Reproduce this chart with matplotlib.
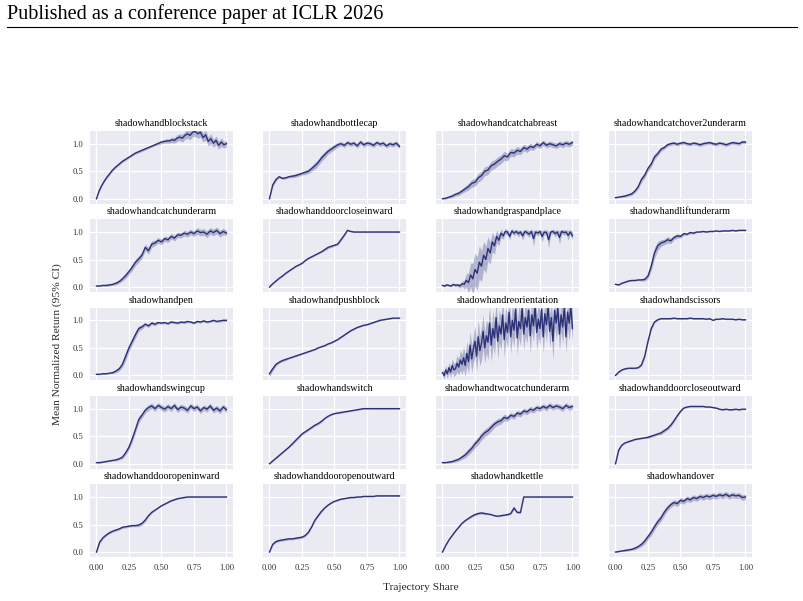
import numpy as np
import matplotlib
matplotlib.use("Agg")
import matplotlib.pyplot as plt
from matplotlib.lines import Line2D


plt.rcParams.update({
    "font.family": ["Liberation Serif", "DejaVu Serif"],
    "font.size": 7,
    "axes.titlesize": 7.2,
    "xtick.labelsize": 6.2,
    "ytick.labelsize": 6.2,
    "axes.facecolor": "#EAEAF2",
    "axes.edgecolor": "white",
    "axes.grid": True,
    "grid.color": "white",
    "grid.linewidth": 0.9,
    "xtick.color": "#333333",
    "ytick.color": "#333333",
    "xtick.major.size": 0,
    "ytick.major.size": 0,
})


TASKS = [
    "shadowhandblockstack", "shadowhandbottlecap", "shadowhandcatchabreast", "shadowhandcatchover2underarm",
    "shadowhandcatchunderarm", "shadowhanddoorcloseinward", "shadowhandgraspandplace", "shadowhandliftunderarm",
    "shadowhandpen", "shadowhandpushblock", "shadowhandreorientation", "shadowhandscissors",
    "shadowhandswingcup", "shadowhandswitch", "shadowhandtwocatchunderarm", "shadowhanddoorcloseoutward",
    "shadowhanddooropeninward", "shadowhanddooropenoutward", "shadowhandkettle", "shadowhandover",
]

X_TICKS = [0.0, 0.25, 0.5, 0.75, 1.0]
X_TICK_LABELS = ["0.00", "0.25", "0.50", "0.75", "1.00"]
Y_TICKS = [0.0, 0.5, 1.0]
Y_TICK_LABELS = ["0.0", "0.5", "1.0"]

# mean normalized return, sampled evenly over trajectory share 0..1
blockstack_mean = [
    0.00, 0.14, 0.24, 0.32, 0.39, 0.45, 0.51, 0.56, 0.60, 0.64,
    0.68, 0.71, 0.74, 0.77, 0.80, 0.83, 0.85, 0.87, 0.89, 0.91,
    0.93, 0.95, 0.97, 0.99, 1.01, 1.03, 1.04, 1.05, 1.05, 1.07,
    1.06, 1.10, 1.12, 1.10, 1.15, 1.18, 1.15, 1.21, 1.22, 1.18,
    1.21, 1.11, 1.16, 1.04, 1.09, 1.01, 1.06, 0.97, 1.03, 0.98,
    1.00]
blockstack_ci = [
    0.01, 0.02, 0.02, 0.02, 0.02, 0.02, 0.02, 0.02, 0.02, 0.02,
    0.02, 0.02, 0.02, 0.02, 0.02, 0.02, 0.02, 0.02, 0.02, 0.02,
    0.02, 0.02, 0.02, 0.02, 0.03, 0.03, 0.03, 0.04, 0.04, 0.05,
    0.05, 0.06, 0.06, 0.07, 0.07, 0.08, 0.08, 0.08, 0.09, 0.08,
    0.09, 0.08, 0.09, 0.08, 0.09, 0.07, 0.08, 0.07, 0.08, 0.06,
    0.06]

bottlecap_mean = [
    0.00, 0.25, 0.35, 0.40, 0.37, 0.38, 0.40, 0.41, 0.42, 0.44,
    0.46, 0.48, 0.50, 0.55, 0.60, 0.66, 0.74, 0.80, 0.86, 0.90,
    0.94, 0.98, 1.00, 0.97, 1.02, 0.99, 1.01, 0.96, 1.03, 0.98,
    1.01, 1.00, 0.97, 1.02, 0.99, 1.01, 0.96, 1.00, 0.98, 1.01,
    0.95]
bottlecap_ci = [
    0.01, 0.03, 0.03, 0.02, 0.02, 0.02, 0.02, 0.03, 0.03, 0.03,
    0.03, 0.04, 0.04, 0.05, 0.06, 0.06, 0.06, 0.06, 0.05, 0.05,
    0.05, 0.04, 0.04, 0.04, 0.04, 0.04, 0.04, 0.04, 0.04, 0.04,
    0.04, 0.04, 0.04, 0.04, 0.04, 0.04, 0.04, 0.04, 0.04, 0.04,
    0.04]

catchabreast_mean = [
    0.00, 0.01, 0.03, 0.05, 0.08, 0.10, 0.14, 0.18, 0.22, 0.28,
    0.30, 0.38, 0.42, 0.50, 0.52, 0.60, 0.63, 0.68, 0.72, 0.78,
    0.76, 0.84, 0.83, 0.88, 0.86, 0.93, 0.90, 0.95, 0.93, 0.99,
    0.96, 1.02, 0.97, 1.00, 0.98, 0.96, 1.00, 0.98, 1.01, 0.99,
    1.02]
catchabreast_ci = [
    0.01, 0.02, 0.02, 0.03, 0.03, 0.04, 0.04, 0.05, 0.06, 0.07,
    0.07, 0.08, 0.08, 0.08, 0.08, 0.08, 0.08, 0.08, 0.08, 0.08,
    0.07, 0.07, 0.07, 0.07, 0.06, 0.06, 0.06, 0.06, 0.05, 0.05,
    0.05, 0.05, 0.05, 0.05, 0.05, 0.05, 0.05, 0.05, 0.05, 0.05,
    0.05]

catchover2underarm_mean = [
    0.02, 0.03, 0.04, 0.05, 0.07, 0.09, 0.14, 0.22, 0.35, 0.43,
    0.55, 0.63, 0.76, 0.82, 0.90, 0.93, 0.98, 1.00, 1.01, 0.99,
    1.01, 1.02, 1.00, 0.99, 1.01, 1.00, 0.98, 1.00, 1.01, 1.02,
    1.00, 0.99, 1.01, 1.00, 0.98, 1.00, 1.02, 1.01, 1.00, 1.03,
    1.03]
catchover2underarm_ci = [
    0.01, 0.01, 0.02, 0.02, 0.02, 0.03, 0.03, 0.04, 0.05, 0.05,
    0.05, 0.05, 0.05, 0.04, 0.04, 0.03, 0.03, 0.03, 0.03, 0.03,
    0.03, 0.03, 0.03, 0.03, 0.03, 0.03, 0.03, 0.03, 0.03, 0.03,
    0.03, 0.03, 0.03, 0.03, 0.03, 0.03, 0.03, 0.03, 0.03, 0.03,
    0.03]

catchunderarm_mean = [
    0.02, 0.02, 0.03, 0.03, 0.04, 0.05, 0.07, 0.10, 0.15, 0.21,
    0.28, 0.36, 0.45, 0.51, 0.58, 0.72, 0.66, 0.78, 0.80, 0.85,
    0.82, 0.88, 0.86, 0.92, 0.89, 0.95, 0.94, 0.98, 0.96, 1.00,
    0.97, 1.02, 0.99, 1.00, 0.96, 1.02, 0.99, 1.03, 0.97, 1.01,
    0.98]
catchunderarm_ci = [
    0.01, 0.01, 0.01, 0.02, 0.02, 0.02, 0.03, 0.03, 0.04, 0.05,
    0.05, 0.06, 0.06, 0.06, 0.06, 0.06, 0.06, 0.06, 0.05, 0.05,
    0.05, 0.05, 0.05, 0.05, 0.05, 0.05, 0.05, 0.05, 0.05, 0.05,
    0.05, 0.06, 0.06, 0.06, 0.06, 0.06, 0.06, 0.06, 0.06, 0.06,
    0.05]

doorcloseinward_mean = [
    0.00, 0.06, 0.11, 0.16, 0.20, 0.25, 0.29, 0.33, 0.37, 0.40,
    0.43, 0.48, 0.52, 0.55, 0.58, 0.61, 0.64, 0.68, 0.72, 0.74,
    0.76, 0.78, 0.86, 0.94, 1.03, 1.01, 1.00, 1.00, 1.00, 1.00,
    1.00, 1.00, 1.00, 1.00, 1.00, 1.00, 1.00, 1.00, 1.00, 1.00,
    1.00]
doorcloseinward_ci = [
    0.01, 0.01, 0.01, 0.01, 0.01, 0.01, 0.01, 0.01, 0.01, 0.01,
    0.01, 0.01, 0.01, 0.01, 0.01, 0.01, 0.01, 0.02, 0.02, 0.02,
    0.02, 0.02, 0.02, 0.02, 0.01, 0.01, 0.01, 0.01, 0.01, 0.01,
    0.01, 0.01, 0.01, 0.01, 0.01, 0.01, 0.01, 0.01, 0.01, 0.01,
    0.01]

graspandplace_mean = [
    0.03, 0.02, 0.04, 0.03, 0.02, 0.05, 0.03, 0.04, 0.02, 0.06,
    0.05, 0.12, 0.08, 0.22, 0.15, 0.32, 0.25, 0.45, 0.38, 0.58,
    0.50, 0.70, 0.62, 0.82, 0.75, 0.92, 0.85, 0.98, 0.93, 1.01,
    1.00, 0.92, 1.02, 0.98, 1.01, 0.97, 1.00, 0.93, 1.01, 0.99,
    0.96, 1.01, 0.88, 1.00, 0.98, 1.01, 0.92, 1.00, 0.99, 0.86,
    1.00, 1.01, 0.97, 1.00, 0.90, 1.01, 0.99, 1.00, 0.94, 1.00,
    0.93]
graspandplace_ci = [
    0.02, 0.02, 0.02, 0.02, 0.02, 0.02, 0.03, 0.03, 0.04, 0.05,
    0.08, 0.12, 0.18, 0.22, 0.28, 0.30, 0.30, 0.30, 0.28, 0.25,
    0.25, 0.22, 0.20, 0.18, 0.15, 0.12, 0.10, 0.08, 0.06, 0.05,
    0.05, 0.06, 0.04, 0.05, 0.04, 0.06, 0.04, 0.08, 0.04, 0.05,
    0.06, 0.04, 0.14, 0.04, 0.05, 0.04, 0.10, 0.04, 0.05, 0.15,
    0.04, 0.04, 0.06, 0.04, 0.12, 0.04, 0.05, 0.04, 0.09, 0.04,
    0.08]

liftunderarm_mean = [
    0.05, 0.04, 0.07, 0.09, 0.11, 0.12, 0.12, 0.13, 0.13, 0.14,
    0.20, 0.38, 0.62, 0.75, 0.80, 0.82, 0.86, 0.84, 0.90, 0.93,
    0.92, 0.97, 0.96, 0.99, 0.98, 1.00, 1.00, 1.01, 1.00, 1.01,
    1.01, 1.02, 1.01, 1.02, 1.02, 1.02, 1.03, 1.02, 1.03, 1.03,
    1.03]
liftunderarm_ci = [
    0.01, 0.01, 0.01, 0.01, 0.01, 0.01, 0.01, 0.01, 0.02, 0.03,
    0.05, 0.08, 0.10, 0.08, 0.06, 0.05, 0.06, 0.05, 0.04, 0.04,
    0.03, 0.03, 0.02, 0.02, 0.02, 0.01, 0.01, 0.01, 0.01, 0.01,
    0.01, 0.01, 0.01, 0.01, 0.01, 0.01, 0.01, 0.01, 0.01, 0.01,
    0.01]

pen_mean = [
    0.02, 0.02, 0.03, 0.03, 0.04, 0.05, 0.08, 0.12, 0.20, 0.35,
    0.50, 0.62, 0.74, 0.85, 0.88, 0.93, 0.90, 0.95, 0.93, 0.96,
    0.95, 0.96, 0.94, 0.97, 0.96, 0.95, 0.97, 0.96, 0.98, 0.97,
    0.95, 0.98, 0.97, 0.99, 0.97, 0.98, 1.00, 0.98, 0.99, 1.00,
    1.00]
pen_ci = [
    0.01, 0.01, 0.01, 0.01, 0.01, 0.02, 0.03, 0.04, 0.05, 0.07,
    0.07, 0.06, 0.06, 0.05, 0.04, 0.03, 0.03, 0.03, 0.03, 0.02,
    0.02, 0.02, 0.02, 0.02, 0.02, 0.02, 0.02, 0.02, 0.02, 0.02,
    0.02, 0.02, 0.02, 0.02, 0.02, 0.02, 0.02, 0.02, 0.02, 0.02,
    0.02]

pushblock_mean = [
    0.03, 0.12, 0.20, 0.24, 0.27, 0.29, 0.31, 0.33, 0.35, 0.37,
    0.39, 0.41, 0.43, 0.45, 0.47, 0.50, 0.52, 0.54, 0.57, 0.59,
    0.62, 0.65, 0.69, 0.73, 0.77, 0.81, 0.84, 0.87, 0.89, 0.91,
    0.92, 0.94, 0.96, 0.98, 1.00, 1.01, 1.02, 1.03, 1.04, 1.04,
    1.04]
pushblock_ci = [
    0.05, 0.04, 0.03, 0.02, 0.02, 0.02, 0.01, 0.01, 0.01, 0.01,
    0.01, 0.01, 0.01, 0.01, 0.01, 0.01, 0.01, 0.01, 0.01, 0.01,
    0.01, 0.01, 0.01, 0.01, 0.01, 0.01, 0.01, 0.01, 0.01, 0.01,
    0.01, 0.01, 0.01, 0.01, 0.01, 0.01, 0.01, 0.01, 0.01, 0.01,
    0.01]

reorientation_mean = [
    0.05, 0.00, 0.10, 0.03, 0.14, 0.06, 0.18, 0.10, 0.12, 0.22,
    0.15, 0.28, 0.20, 0.32, 0.18, 0.40, 0.25, 0.55, 0.30, 0.48,
    0.62, 0.35, 0.70, 0.45, 0.58, 0.80, 0.50, 0.72, 0.60, 0.95,
    0.55, 0.85, 0.68, 1.05, 0.62, 0.90, 0.75, 1.10, 0.65, 0.95,
    0.78, 1.15, 0.70, 1.00, 0.82, 1.20, 0.68, 0.98, 0.85, 1.22,
    0.75, 1.05, 0.88, 1.18, 0.72, 1.10, 0.90, 1.25, 0.78, 1.02,
    0.85, 1.20, 0.70, 1.12, 0.92, 1.25, 0.80, 1.05, 0.62, 1.18,
    0.95, 1.22, 0.75, 1.10, 0.88, 1.25, 0.70, 1.15, 0.95, 1.25,
    0.85]
reorientation_ci = [
    0.06, 0.06, 0.08, 0.08, 0.10, 0.10, 0.12, 0.12, 0.12, 0.15,
    0.15, 0.18, 0.18, 0.20, 0.20, 0.22, 0.22, 0.25, 0.25, 0.25,
    0.28, 0.28, 0.30, 0.28, 0.30, 0.30, 0.28, 0.30, 0.32, 0.30,
    0.30, 0.32, 0.30, 0.30, 0.32, 0.30, 0.30, 0.30, 0.32, 0.30,
    0.30, 0.32, 0.30, 0.30, 0.32, 0.30, 0.30, 0.30, 0.32, 0.30,
    0.30, 0.32, 0.30, 0.30, 0.32, 0.30, 0.30, 0.30, 0.32, 0.30,
    0.30, 0.32, 0.30, 0.30, 0.32, 0.30, 0.30, 0.30, 0.35, 0.30,
    0.30, 0.32, 0.30, 0.30, 0.32, 0.30, 0.30, 0.30, 0.32, 0.30,
    0.30]

scissors_mean = [
    0.00, 0.06, 0.10, 0.12, 0.13, 0.13, 0.13, 0.14, 0.19, 0.35,
    0.62, 0.85, 0.97, 1.01, 1.03, 1.03, 1.03, 1.03, 1.04, 1.03,
    1.03, 1.03, 1.03, 1.04, 1.03, 1.03, 1.03, 1.03, 1.02, 1.03,
    1.00, 1.02, 1.02, 1.03, 1.02, 1.02, 1.02, 1.01, 1.02, 1.01,
    1.01]
scissors_ci = [
    0.01, 0.01, 0.01, 0.01, 0.01, 0.01, 0.01, 0.01, 0.02, 0.03,
    0.04, 0.03, 0.02, 0.01, 0.01, 0.01, 0.01, 0.01, 0.01, 0.01,
    0.01, 0.01, 0.01, 0.01, 0.01, 0.01, 0.01, 0.01, 0.01, 0.01,
    0.01, 0.01, 0.01, 0.01, 0.01, 0.01, 0.01, 0.01, 0.01, 0.01,
    0.01]

swingcup_mean = [
    0.02, 0.02, 0.03, 0.04, 0.05, 0.06, 0.07, 0.09, 0.12, 0.20,
    0.30, 0.45, 0.62, 0.80, 0.88, 0.97, 1.02, 1.05, 1.00, 1.06,
    1.02, 0.99, 1.04, 1.00, 1.06, 0.98, 1.03, 1.01, 0.97, 1.05,
    1.00, 1.03, 0.96, 1.02, 0.99, 1.05, 0.97, 1.01, 0.96, 1.03,
    0.98]
swingcup_ci = [
    0.01, 0.01, 0.01, 0.01, 0.01, 0.01, 0.02, 0.02, 0.03, 0.04,
    0.05, 0.06, 0.06, 0.06, 0.05, 0.05, 0.05, 0.05, 0.05, 0.05,
    0.05, 0.05, 0.05, 0.05, 0.05, 0.05, 0.05, 0.05, 0.05, 0.05,
    0.05, 0.05, 0.05, 0.05, 0.05, 0.05, 0.05, 0.05, 0.05, 0.05,
    0.05]

switch_mean = [
    0.00, 0.05, 0.10, 0.15, 0.20, 0.25, 0.30, 0.36, 0.42, 0.48,
    0.54, 0.58, 0.62, 0.66, 0.70, 0.73, 0.77, 0.82, 0.86, 0.89,
    0.91, 0.92, 0.93, 0.94, 0.95, 0.96, 0.97, 0.98, 0.99, 1.00,
    1.00, 1.00, 1.00, 1.00, 1.00, 1.00, 1.00, 1.00, 1.00, 1.00,
    1.00]
switch_ci = [
    0.01, 0.01, 0.01, 0.01, 0.01, 0.01, 0.01, 0.02, 0.02, 0.02,
    0.02, 0.02, 0.02, 0.02, 0.02, 0.02, 0.02, 0.01, 0.01, 0.01,
    0.01, 0.01, 0.01, 0.01, 0.01, 0.01, 0.01, 0.01, 0.01, 0.01,
    0.01, 0.01, 0.01, 0.01, 0.01, 0.01, 0.01, 0.01, 0.01, 0.01,
    0.01]

twocatchunderarm_mean = [
    0.02, 0.02, 0.03, 0.04, 0.06, 0.08, 0.12, 0.16, 0.22, 0.28,
    0.36, 0.42, 0.50, 0.56, 0.60, 0.66, 0.72, 0.76, 0.78, 0.84,
    0.82, 0.88, 0.86, 0.92, 0.90, 0.96, 0.94, 0.99, 0.97, 1.02,
    1.00, 1.04, 1.01, 1.06, 1.02, 1.05, 1.03, 1.00, 1.06, 1.02,
    1.04]
twocatchunderarm_ci = [
    0.01, 0.01, 0.02, 0.02, 0.03, 0.03, 0.04, 0.05, 0.06, 0.06,
    0.07, 0.07, 0.07, 0.07, 0.07, 0.07, 0.06, 0.06, 0.06, 0.06,
    0.05, 0.05, 0.05, 0.05, 0.05, 0.05, 0.05, 0.05, 0.05, 0.05,
    0.05, 0.05, 0.05, 0.05, 0.05, 0.05, 0.05, 0.05, 0.05, 0.05,
    0.05]

doorcloseoutward_mean = [
    0.00, 0.25, 0.34, 0.38, 0.40, 0.42, 0.44, 0.45, 0.46, 0.47,
    0.48, 0.50, 0.52, 0.54, 0.56, 0.60, 0.64, 0.70, 0.78, 0.87,
    0.95, 1.01, 1.03, 1.04, 1.04, 1.04, 1.04, 1.04, 1.03, 1.03,
    1.02, 1.01, 0.99, 0.98, 0.99, 0.98, 0.98, 0.99, 0.98, 0.99,
    0.99]
doorcloseoutward_ci = [
    0.02, 0.02, 0.01, 0.01, 0.01, 0.01, 0.01, 0.01, 0.01, 0.01,
    0.02, 0.02, 0.02, 0.02, 0.03, 0.03, 0.03, 0.03, 0.03, 0.02,
    0.02, 0.01, 0.01, 0.01, 0.01, 0.01, 0.01, 0.01, 0.01, 0.01,
    0.01, 0.01, 0.01, 0.01, 0.01, 0.01, 0.01, 0.01, 0.01, 0.01,
    0.01]

dooropeninward_mean = [
    0.00, 0.18, 0.26, 0.31, 0.35, 0.38, 0.40, 0.42, 0.45, 0.46,
    0.47, 0.48, 0.48, 0.49, 0.52, 0.58, 0.66, 0.72, 0.76, 0.80,
    0.84, 0.87, 0.90, 0.93, 0.95, 0.97, 0.98, 0.99, 1.00, 1.00,
    1.00, 1.00, 1.00, 1.00, 1.00, 1.00, 1.00, 1.00, 1.00, 1.00,
    1.00]
dooropeninward_ci = [
    0.02, 0.02, 0.02, 0.02, 0.02, 0.02, 0.02, 0.02, 0.02, 0.02,
    0.02, 0.02, 0.02, 0.03, 0.03, 0.03, 0.02, 0.02, 0.01, 0.01,
    0.01, 0.01, 0.01, 0.01, 0.01, 0.01, 0.01, 0.01, 0.01, 0.01,
    0.01, 0.01, 0.01, 0.01, 0.01, 0.01, 0.01, 0.01, 0.01, 0.01,
    0.01]

dooropenoutward_mean = [
    0.00, 0.14, 0.19, 0.21, 0.22, 0.23, 0.24, 0.24, 0.25, 0.26,
    0.27, 0.30, 0.36, 0.46, 0.58, 0.66, 0.74, 0.80, 0.85, 0.89,
    0.92, 0.94, 0.96, 0.97, 0.98, 0.99, 0.99, 1.00, 1.00, 1.01,
    1.01, 1.01, 1.01, 1.02, 1.02, 1.02, 1.02, 1.02, 1.02, 1.02,
    1.02]
dooropenoutward_ci = [
    0.01, 0.02, 0.02, 0.02, 0.02, 0.02, 0.02, 0.02, 0.02, 0.02,
    0.02, 0.02, 0.02, 0.02, 0.02, 0.02, 0.02, 0.01, 0.01, 0.01,
    0.01, 0.01, 0.01, 0.01, 0.01, 0.01, 0.01, 0.01, 0.01, 0.01,
    0.01, 0.01, 0.01, 0.01, 0.01, 0.01, 0.01, 0.01, 0.01, 0.01,
    0.01]

kettle_mean = [
    0.00, 0.12, 0.22, 0.30, 0.38, 0.45, 0.52, 0.57, 0.61, 0.65,
    0.68, 0.70, 0.71, 0.70, 0.69, 0.68, 0.66, 0.65, 0.66, 0.67,
    0.68, 0.70, 0.80, 0.72, 0.72, 1.00, 1.00, 1.00, 1.00, 1.00,
    1.00, 1.00, 1.00, 1.00, 1.00, 1.00, 1.00, 1.00, 1.00, 1.00,
    1.00]
kettle_ci = [
    0.01, 0.01, 0.01, 0.01, 0.01, 0.01, 0.01, 0.01, 0.01, 0.02,
    0.02, 0.02, 0.02, 0.02, 0.01, 0.01, 0.01, 0.01, 0.01, 0.01,
    0.02, 0.02, 0.03, 0.02, 0.02, 0.01, 0.01, 0.01, 0.01, 0.01,
    0.01, 0.01, 0.01, 0.01, 0.01, 0.01, 0.01, 0.01, 0.01, 0.01,
    0.01]

handover_mean = [
    0.00, 0.01, 0.02, 0.03, 0.04, 0.05, 0.07, 0.10, 0.14, 0.20,
    0.28, 0.36, 0.46, 0.55, 0.62, 0.72, 0.80, 0.86, 0.90, 0.88,
    0.94, 0.92, 0.97, 0.95, 0.99, 0.97, 1.01, 0.99, 1.02, 1.00,
    1.03, 1.01, 1.04, 1.02, 1.05, 1.01, 1.04, 1.02, 1.03, 0.99,
    1.00]
handover_ci = [
    0.01, 0.01, 0.01, 0.02, 0.02, 0.02, 0.03, 0.03, 0.04, 0.05,
    0.05, 0.06, 0.06, 0.06, 0.06, 0.06, 0.05, 0.05, 0.05, 0.05,
    0.05, 0.05, 0.05, 0.05, 0.05, 0.05, 0.05, 0.05, 0.05, 0.05,
    0.05, 0.05, 0.05, 0.05, 0.05, 0.05, 0.05, 0.05, 0.05, 0.05,
    0.05]

SERIES = [
    (blockstack_mean, blockstack_ci), (bottlecap_mean, bottlecap_ci),
    (catchabreast_mean, catchabreast_ci), (catchover2underarm_mean, catchover2underarm_ci),
    (catchunderarm_mean, catchunderarm_ci), (doorcloseinward_mean, doorcloseinward_ci),
    (graspandplace_mean, graspandplace_ci), (liftunderarm_mean, liftunderarm_ci),
    (pen_mean, pen_ci), (pushblock_mean, pushblock_ci),
    (reorientation_mean, reorientation_ci), (scissors_mean, scissors_ci),
    (swingcup_mean, swingcup_ci), (switch_mean, switch_ci),
    (twocatchunderarm_mean, twocatchunderarm_ci), (doorcloseoutward_mean, doorcloseoutward_ci),
    (dooropeninward_mean, dooropeninward_ci), (dooropenoutward_mean, dooropenoutward_ci),
    (kettle_mean, kettle_ci), (handover_mean, handover_ci),
]

LINE_COLOR = "#2b3178"


def plot_grid(filename="out.png"):
    fig, axes = plt.subplots(5, 4, figsize=(8.04, 6.01), sharex=True, sharey=True)
    fig.subplots_adjust(left=0.1119, right=0.9353, top=0.782, bottom=0.0732,
                        wspace=0.21, hspace=0.215)

    for ax, name, (mean, ci) in zip(axes.flat, TASKS, SERIES):
        y = np.array(mean)
        half = np.array(ci)
        x = np.linspace(0, 1, len(y))
        ax.fill_between(x, y - half, y + half, color=LINE_COLOR, alpha=0.3, linewidth=0)
        ax.plot(x, y, color=LINE_COLOR, linewidth=1.0)
        ax.set_title(name, pad=3.5)
        ax.set_xlim(-0.05, 1.05)
        ax.set_ylim(-0.09, 1.23)
        ax.set_xticks(X_TICKS)
        ax.set_xticklabels(X_TICK_LABELS)
        ax.set_yticks(Y_TICKS)
        ax.set_yticklabels(Y_TICK_LABELS)
        ax.tick_params(axis="x", pad=5)
        ax.tick_params(axis="y", pad=5)
        for s in ax.spines.values():
            s.set_visible(False)
        ax.set_axisbelow(True)

    fig.text(0.071, 0.4276, "Mean Normalized Return (95% CI)", rotation=90,
             ha="center", va="center", fontsize=8.2, color="#262626")
    fig.text(0.5237, 0.023, "Trajectory Share", ha="center", va="center",
             fontsize=8.2, color="#262626")

    # page header from the paper
    fig.text(7 / 804, 1 - 14 / 601, "Published as a conference paper at ICLR 2026",
             ha="left", va="center", fontsize=14.6, color="black")
    fig.add_artist(Line2D([7 / 804, 797 / 804], [1 - 27 / 601, 1 - 27 / 601],
                          color="black", linewidth=0.8))

    fig.savefig(filename, dpi=100)
    plt.close(fig)


if __name__ == "__main__":
    plot_grid()
